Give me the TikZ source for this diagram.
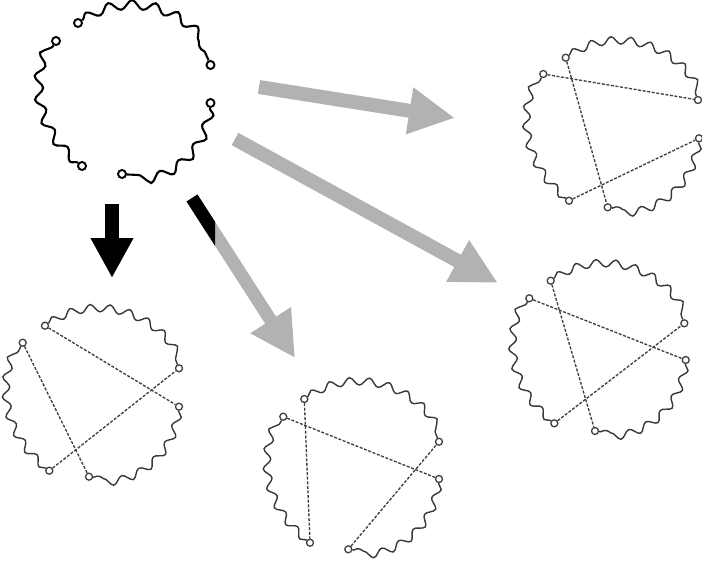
\documentclass[tikz,border=0pt]{standalone}
\usetikzlibrary{decorations.pathmorphing,arrows.meta}
\begin{document}
\begin{tikzpicture}[x=1pt,y=-1pt,
  dotA/.style={circle,draw=black,fill=white,line width=1.9pt,minimum size=8pt,inner sep=0pt},
  dotB/.style={circle,draw=black!75,fill=white,line width=1.3pt,minimum size=7pt,inner sep=0pt},
  wavyA/.style={draw=black,line width=2.1pt,decorate,decoration={snake,segment length=23pt,amplitude=4.5pt}},
  wavyB/.style={draw=black!78,line width=1.4pt,decorate,decoration={snake,segment length=19.5pt,amplitude=3.8pt}},
  chord/.style={draw=black!75,line width=1.35pt,dash pattern=on 3pt off 1.6pt},
  greyarrow/.style={draw=black!30,line width=14pt,-{Triangle[length=46pt,width=44pt]}},
  blackarrow/.style={draw=black,line width=14pt,-{Triangle[length=40pt,width=40pt]}}
]
\useasboundingbox (0,0) rectangle (702,567);

\newcommand\ringarcs[2]{%
  \draw[#2] (#1a) to[bend left=50] (#1c);
  \draw[#2] (#1d) to[bend left=44] (#1f);
  \draw[#2] (#1e) to[bend left=38] (#1b);
}

% ---- top-left: open chain
\node[dotA] (tla) at (78,23) {};
\node[dotA] (tlb) at (56,41) {};
\node[dotA] (tlc) at (210.5,65) {};
\node[dotA] (tld) at (210.5,103) {};
\node[dotA] (tle) at (82,166) {};
\node[dotA] (tlf) at (122,174) {};
\ringarcs{tl}{wavyA}

% ---- top-right
\node[dotB] (tra) at (565.7,57.7) {};
\node[dotB] (trb) at (543.3,74) {};
\node[dotB] (trc) at (698,100) {};
\node[dotB] (trd) at (699,138.3) {};
\node[dotB] (tre) at (569,200.7) {};
\node[dotB] (trf) at (607.7,207.3) {};
\ringarcs{tr}{wavyB}
\draw[chord] (trb) -- (trc);
\draw[chord] (tra) -- (trf);
\draw[chord] (tre) -- (trd);

% ---- middle-right
\node[dotB] (mra) at (550.7,280.7) {};
\node[dotB] (mrb) at (529.3,298.3) {};
\node[dotB] (mrc) at (684.3,323.3) {};
\node[dotB] (mrd) at (685.7,360) {};
\node[dotB] (mre) at (554.3,423.3) {};
\node[dotB] (mrf) at (595,431) {};
\ringarcs{mr}{wavyB}
\draw[chord] (mrb) -- (mrd);
\draw[chord] (mra) -- (mrf);
\draw[chord] (mre) -- (mrc);

% ---- bottom-left
\node[dotB] (bla) at (45,325.7) {};
\node[dotB] (blb) at (22.7,342.7) {};
\node[dotB] (blc) at (179,368.3) {};
\node[dotB] (bld) at (179,406.7) {};
\node[dotB] (ble) at (49.3,470.7) {};
\node[dotB] (blf) at (89,476.7) {};
\ringarcs{bl}{wavyB}
\draw[chord] (bla) -- (bld);
\draw[chord] (blb) -- (blf);
\draw[chord] (ble) -- (blc);

% ---- bottom-middle
\node[dotB] (bma) at (304.3,399) {};
\node[dotB] (bmb) at (283.3,416.7) {};
\node[dotB] (bmc) at (439,441.7) {};
\node[dotB] (bmd) at (439,479) {};
\node[dotB] (bme) at (310,542.7) {};
\node[dotB] (bmf) at (348.3,549.3) {};
\ringarcs{bm}{wavyB}
\draw[chord] (bmb) -- (bmd);
\draw[chord] (bma) -- (bme);
\draw[chord] (bmf) -- (bmc);

% ---- arrows
\coordinate (a1s) at (259,87);
\coordinate (a1e) at (455,118);
\coordinate (a2s) at (235,139);
\coordinate (a2e) at (498,283);
\coordinate (a3s) at (192,198);
\coordinate (a3e) at (295,358);
\coordinate (a4s) at (112,204);
\coordinate (a4e) at (112,278);
\draw[greyarrow] (a1s) -- (a1e);
\draw[greyarrow] (a2s) -- (a2e);
\draw[greyarrow,line width=13pt,-{Triangle[length=45pt,width=45pt]}] (a3s) -- (a3e);
\begin{scope}
  \clip (0,0) rectangle (215,567);
  \draw[greyarrow,draw=black,line width=13pt,-{Triangle[length=45pt,width=45pt]}] (a3s) -- (a3e);
\end{scope}
\draw[blackarrow] (a4s) -- (a4e);
\end{tikzpicture}
\end{document}
